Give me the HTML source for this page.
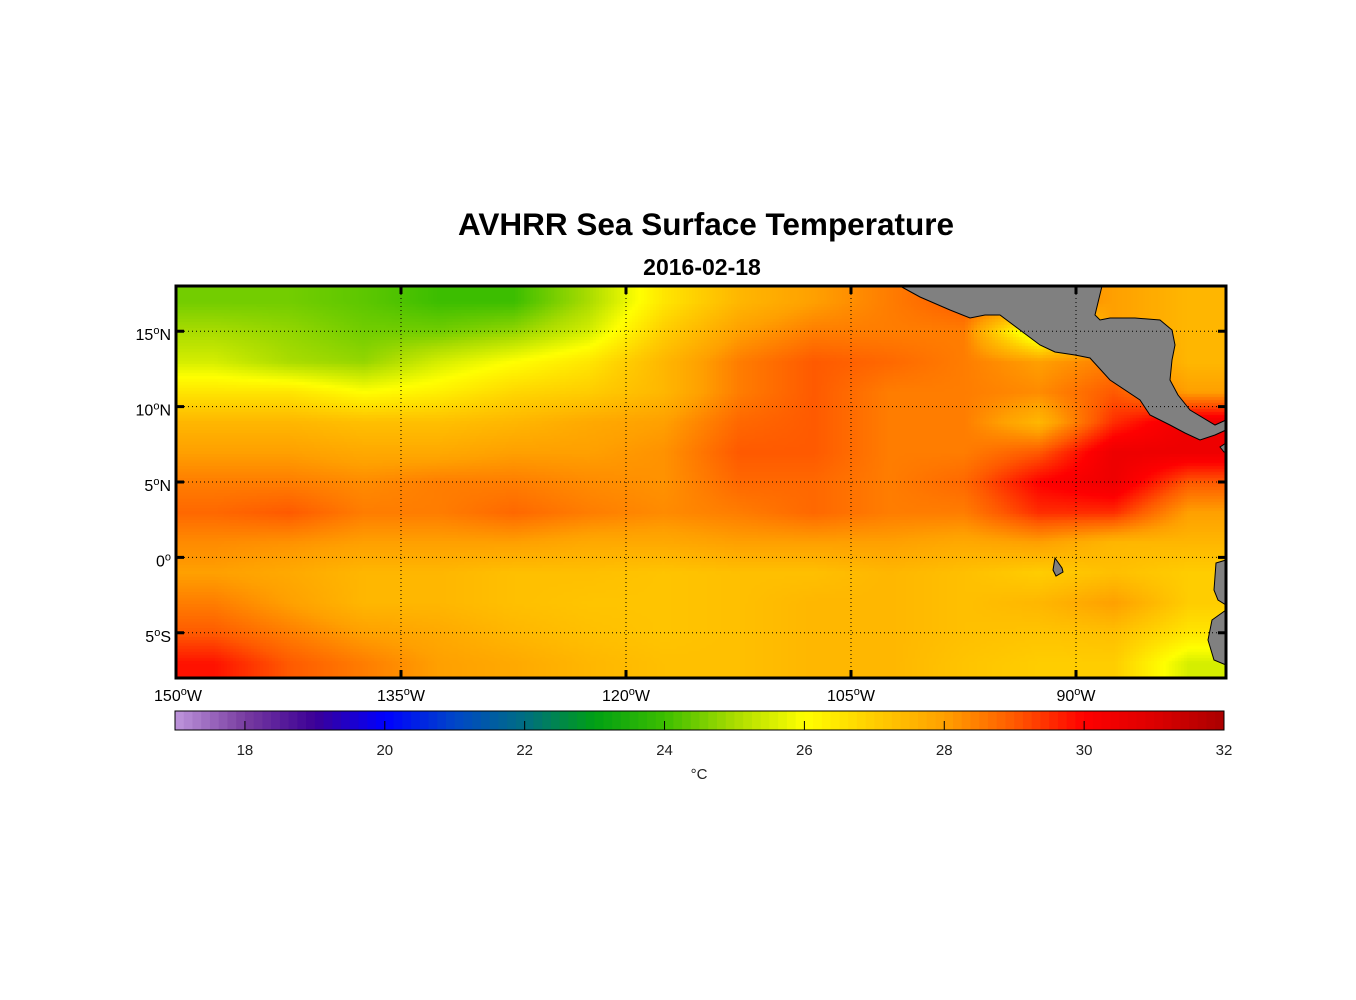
<!DOCTYPE html>
<html><head><meta charset="utf-8"><style>
body{margin:0;background:#fff;width:1356px;height:1000px;overflow:hidden;font-family:"Liberation Sans",Arial,sans-serif;}
#wrap{position:relative;width:1356px;height:1000px;}
</style></head><body><div id="wrap">
<canvas id="map" width="1050" height="392" style="position:absolute;left:176px;top:286px"></canvas>
<svg id="svg" width="1356" height="1000" style="position:absolute;left:0;top:0"></svg>
</div>
<script>
// SST values (°C), rows from 18N→-8S in 2° bands, cols 150W→80W in 5° bands
const lonEdges=[-150,-80];
const latEdges=[18,-8];
const row18=[24.5,24.5,24.3,24,24,25,26.5,27.5,28,28.5,29,28.5,28,27.5];
const row16=[25,24.8,24.5,24.5,24.8,25.5,27,28,28.5,28.5,28.5,25,28,27.5];
const row14=[25.5,25,24.8,25.5,26,26.5,27.5,28.5,29,28.8,28.5,28,28.5,27.5];
const row12=[26.5,26.5,26,26.3,26.8,27,27.5,28.5,29,28.5,28.5,28.3,29,28];
const row10=[27.5,27.5,27.3,27.3,27.5,27.8,28,28.8,29,28.5,28.5,27.5,29.5,30.5];
const row8=[28,28,27.8,27.8,28,28,28.2,29,29,28.5,28.5,29,30.5,30.5];
const row6=[28.5,28.5,28.3,28.5,28.5,28.3,28.2,28.8,28.8,28.5,28.8,30,30.5,29];
const row4=[28.8,29,28.5,28.5,28.8,28.5,28.3,28.5,28.8,28.5,28.5,29.5,29.5,28];
const row2=[28.3,28.2,28,28,28,27.8,27.8,28,28,28,27.8,28,27.5,27.5];
const row0=[28,27.8,27.5,27.5,27.3,27.3,27.2,27.3,27.3,27.5,27.3,27,27.3,27];
const rowm2=[28.5,28,27.5,27.5,27.3,27.2,27.2,27.3,27.5,27.5,27.3,27.5,28,27];
const rowm4=[29,28.5,28,27.8,27.5,27.3,27.2,27.3,27.5,27.5,27.3,27.2,27.3,26.5];
const rowm6=[29.8,29,28.5,28,27.8,27.5,27.3,27.3,27.5,27.5,27.2,27,27,25.5];
const grid=[row18,row16,row14,row12,row10,row8,row6,row4,row2,row0,rowm2,rowm4,rowm6];
const lonTicks=[-150,-135,-120,-105,-90];
const lonLabels=["150","135","120","105","90"];
const latTicks=[15,10,5,0,-5];
const latLabels=["15","10","5","0","5"];
const latSuffix=["N","N","N","",'S'];
const cbTicks=[18,20,22,24,26,28,30,32];
const cmin=17,cmax=32;

const X0=176,X1=1226,Y0=286,Y1=678;
const xs=lon=>X0+(lon-lonEdges[0])/(lonEdges[1]-lonEdges[0])*(X1-X0);
const ys=lat=>Y0+(latEdges[0]-lat)/(latEdges[0]-latEdges[1])*(Y1-Y0);
const stops=[[17,[190,150,220]],[18,[120,60,160]],[19,[60,0,150]],[20,[0,0,255]],[21,[0,70,200]],[22,[0,110,130]],[23,[0,160,20]],[24,[60,190,0]],[25,[170,220,0]],[26,[255,255,0]],[27,[255,205,0]],[28,[255,160,0]],[29,[255,90,0]],[30,[255,0,0]],[31,[220,0,0]],[32,[170,0,0]]];
function cmap(v){v=Math.max(cmin,Math.min(cmax,v));for(let i=0;i<stops.length-1;i++){const a=stops[i],b=stops[i+1];if(v<=b[0]){const t=(v-a[0])/(b[0]-a[0]);return a[1].map((c,k)=>Math.round(c+(b[1][k]-c)*t));}}return stops[stops.length-1][1];}
const cv=document.getElementById('map'),ctx=cv.getContext('2d');
const nr=grid.length,nc=grid[0].length;
function val(px,py){
  const lon=lonEdges[0]+(px/(X1-X0))*(lonEdges[1]-lonEdges[0]);
  const lat=latEdges[0]-(py/(Y1-Y0))*(latEdges[0]-latEdges[1]);
  let fc=(lon-lonEdges[0])/((lonEdges[1]-lonEdges[0])/nc)-0.5;
  let fr=(latEdges[0]-lat)/((latEdges[0]-latEdges[1])/nr)-0.5;
  fc=Math.max(0,Math.min(nc-1.001,fc));fr=Math.max(0,Math.min(nr-1.001,fr));
  const c=Math.floor(fc),r=Math.floor(fr),tc=fc-c,tr=fr-r;
  const a=grid[r][c]*(1-tc)+grid[r][c+1]*tc,b=grid[r+1][c]*(1-tc)+grid[r+1][c+1]*tc;
  return a*(1-tr)+b*tr;
}
const S=3;
for(let y=0;y<392;y+=S)for(let x=0;x<1050;x+=S){const c=cmap(val(x+1,y+1));ctx.fillStyle=`rgb(${c[0]},${c[1]},${c[2]})`;ctx.fillRect(x,y,S,S);}
const svg=document.getElementById('svg'),NS='http://www.w3.org/2000/svg';
function el(t,a,p){const e=document.createElementNS(NS,t);for(const k in a)e.setAttribute(k,a[k]);(p||svg).appendChild(e);return e;}
const landPts=[
 "900,286 920,297 950,310 970,318 985,315 1000,315 1020,330 1040,345 1055,352 1075,355 1090,358 1110,380 1140,400 1150,415 1170,425 1185,433 1200,440 1215,435 1226,430 1226,420 1215,425 1190,410 1178,395 1170,380 1172,360 1175,345 1172,330 1160,320 1135,318 1110,318 1100,320 1095,315 1102,286",
 "1226,443 1220,447 1224,452 1226,452",
 "1055,558 1062,568 1063,572 1056,576 1053,570",
 "1226,560 1216,563 1214,590 1218,600 1226,605",
 "1226,610 1212,620 1208,640 1214,660 1226,665"];
landPts.forEach(p=>{const e=el('polygon',{points:p,fill:'#808080',stroke:'#000','stroke-width':1});

});
lonTicks.forEach((lon,i)=>{const x=xs(lon);
 if(i>0){const g=el('line',{x1:x,x2:x,y1:Y0,y2:Y1,stroke:'#000','stroke-width':1,'stroke-dasharray':'1,3'});
 
 }
 el('line',{x1:x,x2:x,y1:Y0,y2:Y0+8,stroke:'#000','stroke-width':3});
 el('line',{x1:x,x2:x,y1:Y1,y2:Y1-8,stroke:'#000','stroke-width':3});
 const t=el('text',{x:x+(i==0?2:0),y:701,'font-size':16,'text-anchor':'middle'});
 
 
 t.innerHTML=lonLabels[i]+'<tspan dy="-6" font-size="11">o</tspan><tspan dy="6">W</tspan>';});
latTicks.forEach((lat,i)=>{const y=ys(lat);
 const g=el('line',{x1:X0,x2:X1,y1:y,y2:y,stroke:'#000','stroke-width':1,'stroke-dasharray':'1,3'});
 
 
 el('line',{x1:X0,x2:X0+8,y1:y,y2:y,stroke:'#000','stroke-width':3});
 el('line',{x1:X1,x2:X1-8,y1:y,y2:y,stroke:'#000','stroke-width':3});
 const t=el('text',{x:171,y:y+9,'font-size':16,'text-anchor':'end'});
 
 
 t.innerHTML=latLabels[i]+'<tspan dy="-6" font-size="11">o</tspan><tspan dy="6">'+latSuffix[i]+'</tspan>';});
const fr=el('rect',{x:X0,y:Y0,width:X1-X0,height:Y1-Y0,fill:'none',stroke:'#000','stroke-width':3});


const t1=el('text',{x:706,y:235,'font-size':31.5,'font-weight':'bold','text-anchor':'middle'});t1.textContent='AVHRR Sea Surface Temperature';


const t2=el('text',{x:702,y:275,'font-size':23,'font-weight':'bold','text-anchor':'middle'});t2.textContent='2016-02-18';


const CX0=175,CX1=1224,CY0=711,CY1=730;
const cx=v=>CX0+(v-cmin)/(cmax-cmin)*(CX1-CX0);
const cb=el('g',{});


for(let v=cmin;v<cmax;v+=0.125){const c=cmap(v+0.0625);el('rect',{x:cx(v),y:CY0,width:cx(v+0.125)-cx(v)+0.5,height:CY1-CY0,fill:`rgb(${c})`},cb);}
el('rect',{x:CX0,y:CY0,width:CX1-CX0,height:CY1-CY0,fill:'none',stroke:'#000','stroke-width':1},cb);
cbTicks.forEach(v=>{const x=cx(v);el('line',{x1:x,x2:x,y1:CY1,y2:CY1-9,stroke:'#000'},cb);
 const t=el('text',{x:x,y:755,'font-size':15,'text-anchor':'middle',fill:'#222'},cb);t.textContent=v;
 
 });
const u=el('text',{x:699,y:779,'font-size':15,'text-anchor':'middle',fill:'#222'});u.textContent='°C';


</script></body></html>
